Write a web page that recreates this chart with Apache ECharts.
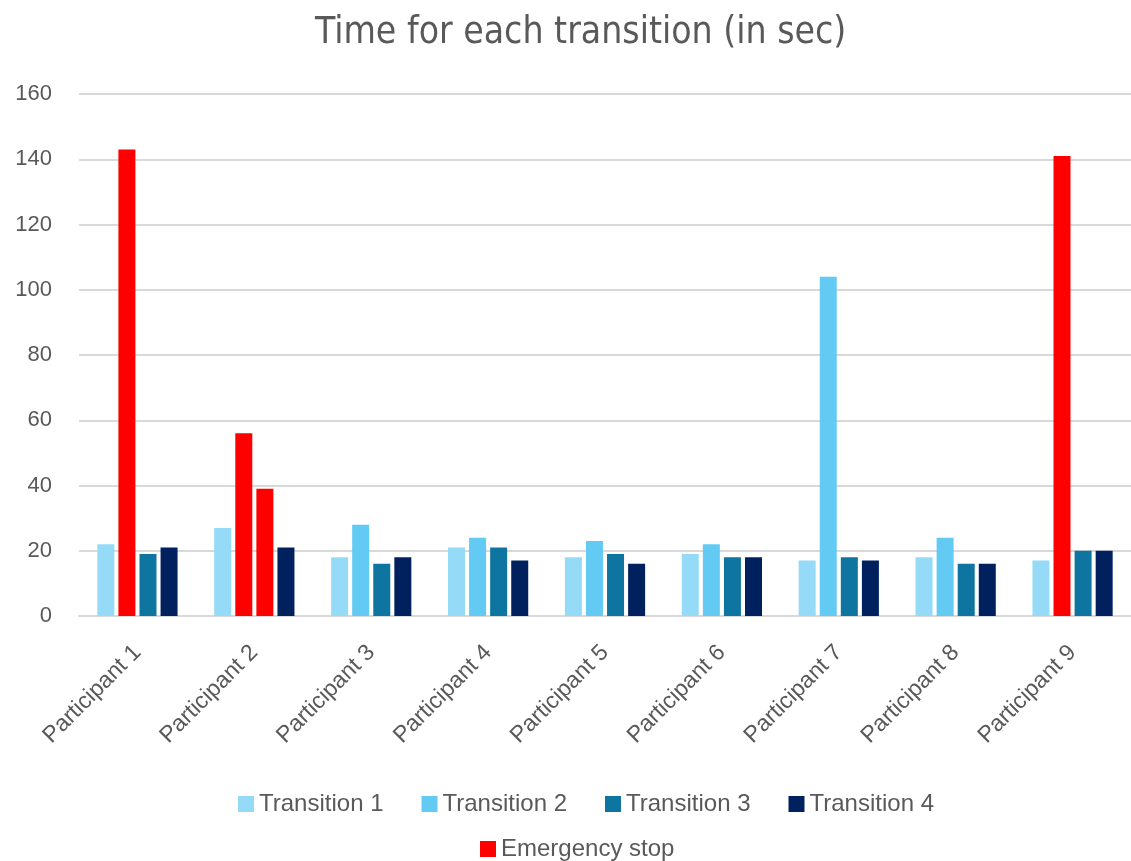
<!DOCTYPE html>
<html>
<head>
<meta charset="utf-8">
<script src="https://cdn.jsdelivr.net/npm/echarts@6/dist/echarts.min.js"></script>
<style>
html,body{margin:0;padding:0;background:#fff;}
#chart{width:1131px;height:861px;}
</style>
</head>
<body>
<div id="chart"></div>
<script>
const participants = ['Participant 1','Participant 2','Participant 3','Participant 4','Participant 5','Participant 6','Participant 7','Participant 8','Participant 9'];
const transitionNames = ['Transition 1','Transition 2','Transition 3','Transition 4'];
const transition1 = [22, 27, 18, 21, 18, 19, 17, 18, 17];
const transition2 = [143, 56, 28, 24, 23, 22, 104, 24, 141];
const transition3 = [19, 39, 16, 21, 19, 18, 18, 16, 20];
const transition4 = [21, 21, 18, 17, 16, 18, 17, 16, 20];
// [participant index, transition index] of bars that ended in an emergency stop
const emergencyStops = [[0, 1], [1, 1], [1, 2], [8, 1]];
const emergencyName = 'Emergency stop';

const colors = ['#95DBF7', '#62CAF3', '#0E74A0', '#00205E'];
const red = '#FF0000';
const grey = '#595959';
const lineGrey = '#D9D9D9';

const values = [transition1, transition2, transition3, transition4];
const series = values.map((arr, ti) => ({
  name: transitionNames[ti],
  type: 'bar',
  barWidth: 17,
  barGap: '24%',
  itemStyle: { color: colors[ti] },
  data: arr.map((v, pi) => {
    const isStop = emergencyStops.some(e => e[0] === pi && e[1] === ti);
    return isStop ? { value: v, itemStyle: { color: red } } : v;
  })
}));
series.push({
  name: emergencyName,
  type: 'scatter',
  itemStyle: { color: red, opacity: 1 },
  data: []
});

const chart = echarts.init(document.getElementById('chart'));
chart.setOption({
  animation: false,
  backgroundColor: '#fff',
  title: {
    text: 'Time for each transition (in sec)',
    left: 310,
    top: 10,
    textStyle: { fontFamily: "'Liberation Sans Narrow', 'DejaVu Sans Condensed', sans-serif", fontSize: 37, fontWeight: 'normal', color: grey }
  },
  legend: [{
    data: transitionNames,
    top: 787,
    left: 233,
    icon: 'rect',
    itemWidth: 16,
    itemHeight: 16,
    itemGap: 38,
    textStyle: { fontFamily: "'Liberation Sans', Arial, sans-serif", fontSize: 24, color: grey }
  }, {
    data: [emergencyName],
    top: 832,
    left: 475,
    icon: 'rect',
    itemWidth: 16,
    itemHeight: 16,
    itemStyle: { opacity: 1 },
    textStyle: { fontFamily: "'Liberation Sans', Arial, sans-serif", fontSize: 24, color: grey }
  }],
  grid: { left: 79, right: -5, top: 94, bottom: 245, containLabel: false },
  xAxis: {
    type: 'category',
    data: participants,
    axisLine: { lineStyle: { color: lineGrey, width: 2 } },
    axisTick: { show: false },
    axisLabel: { rotate: 45, margin: 33, fontFamily: "'Liberation Sans', Arial, sans-serif", fontSize: 23, color: grey, interval: 0 }
  },
  yAxis: {
    type: 'value',
    min: 0,
    max: 160,
    interval: 20,
    axisLine: { show: false },
    axisTick: { show: false },
    splitLine: { lineStyle: { color: lineGrey, width: 2 } },
    axisLabel: { margin: 27, fontFamily: "'Liberation Sans', Arial, sans-serif", fontSize: 22, color: grey }
  },
  series: series
});
</script>
</body>
</html>
